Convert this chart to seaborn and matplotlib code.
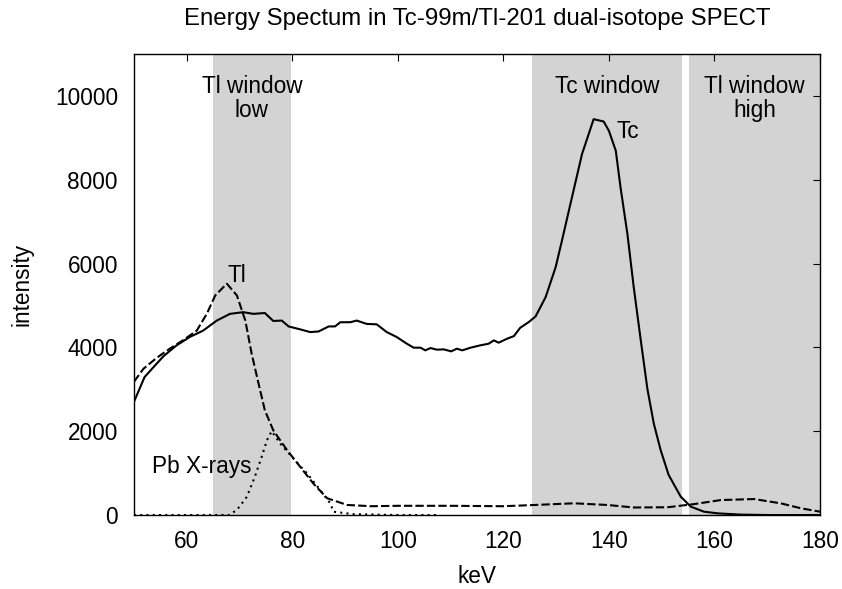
import matplotlib
matplotlib.use("Agg")
import matplotlib.pyplot as plt
import seaborn as sns
import pandas as pd

# ---------------- data ----------------
kev_tc = [50, 52, 54, 55.6, 58.1, 60.6, 63.1, 65.7, 68.2, 70.7, 72.6, 74.8, 76.4, 78.0, 79.3,
          81.5, 83.4, 85.0, 86.9, 88.1, 89.1, 91.0, 92.2, 94.1, 96.0, 97.9, 99.8, 101.7, 103.0,
          104.3, 105.2, 106.2, 107.4, 108.7, 110.1, 111.2, 112.2, 113.8, 115.6, 117.2, 118.2,
          119.1, 120.7, 122.0, 123.2, 124.8, 126.1, 128.0, 129.9, 131.1, 132.7, 134.9, 137.1,
          139.0, 140.0, 141.3, 142.2, 143.5, 144.7, 146.0, 147.3, 148.5, 149.8, 151.3, 153.6,
          155.5, 158.0, 160.6, 165, 170, 175, 180]
val_tc = [2700, 3290, 3570, 3790, 4050, 4250, 4400, 4640, 4800, 4840, 4800, 4820, 4630, 4640, 4500,
          4430, 4365, 4380, 4500, 4500, 4600, 4600, 4640, 4560, 4550, 4365, 4246, 4088, 3993,
          3993, 3929, 3984, 3945, 3953, 3905, 3969, 3929, 3993, 4048, 4088, 4167,
          4112, 4207, 4270, 4469, 4603, 4738, 5198, 5912, 6548, 7421, 8612, 9445,
          9390, 9167, 8691, 7817, 6707, 5436, 4200, 3000, 2183, 1550, 960, 440,
          200, 80, 40, 10, 0, 0, 0]

kev_tl = [50, 51.8, 54.3, 56.8, 59.3, 61.9, 63.8, 65.4, 67.6, 69.5, 71.1, 72.3, 73.6, 74.8, 76.4,
          79.0, 81.5, 84.0, 86.6, 90.4, 95, 100, 110, 120, 126, 133.4, 139.7, 144.7, 151.1,
          156.1, 161.2, 167.5, 172.6, 176.4, 180]
val_tl = [3180, 3490, 3750, 3970, 4170, 4400, 4800, 5240, 5520, 5240, 4640, 3850, 3140, 2500, 2020,
          1550, 1150, 750, 400, 240, 210, 220, 220, 210, 240, 280, 240, 180, 185,
          260, 357, 381, 278, 160, 80]

kev_pb = [50, 60, 68, 69.5, 71.4, 72.9, 74.2, 75.2, 76.1, 77.7, 80.2, 82.8, 85.3, 87.2, 87.8,
          91.6, 100, 108]
val_pb = [0, 0, 0, 120, 436, 912, 1388, 1786, 2000, 1707, 1350, 993, 595, 278, 79,
          20, 0, 0]

windows = [(65.0, 79.7), (125.5, 153.8), (155.2, 180.0)]
window_labels = ["Tl window\nlow", "Tc window", "Tl window\nhigh"]

x_ticks = [60, 80, 100, 120, 140, 160, 180]
y_ticks = [0, 2000, 4000, 6000, 8000, 10000]

# ---------------- style ----------------
sns.set_style("white")
plt.rcParams['font.family'] = ['Liberation Sans', 'DejaVu Sans']
plt.rcParams['text.color'] = 'black'
plt.rcParams['axes.labelcolor'] = 'black'
plt.rcParams['xtick.color'] = 'black'
plt.rcParams['ytick.color'] = 'black'
FS = 16.3

fig = plt.figure(figsize=(8.42, 5.89), dpi=100)
ax = fig.add_axes([0.1591, 0.1256, 0.9739 - 0.1591, 0.9083 - 0.1256])

for (a, b), lab in zip(windows, window_labels):
    ax.axvspan(a, b, color="#d3d3d3", lw=0, zorder=0)
    ax.text((a + b) / 2, 10500, lab, ha="center", va="top", fontsize=FS,
            linespacing=1.05, color="black", zorder=3)

df_tc = pd.DataFrame({"keV": kev_tc, "intensity": val_tc})
df_tl = pd.DataFrame({"keV": kev_tl, "intensity": val_tl})
df_pb = pd.DataFrame({"keV": kev_pb, "intensity": val_pb})

sns.lineplot(data=df_tc, x="keV", y="intensity", ax=ax, color="black", lw=1.5, zorder=4)
sns.lineplot(data=df_tl, x="keV", y="intensity", ax=ax, color="black", lw=1.5,
             linestyle=(0, (4, 1.5)), zorder=4)
sns.lineplot(data=df_pb, x="keV", y="intensity", ax=ax, color="black", lw=1.5,
             linestyle=(0, (1, 2)), zorder=4)

ax.text(69.5, 5720, "Tl", ha="center", va="center", fontsize=FS, color="black", zorder=5)
ax.text(143.6, 9155, "Tc", ha="center", va="center", fontsize=FS, color="black", zorder=5)
ax.text(62.8, 993, "Pb X-rays", ha="center", va="baseline", fontsize=FS, color="black", zorder=5)

ax.set_xlim(50, 180)
ax.set_ylim(0, 11000)
ax.set_xticks(x_ticks)
ax.set_yticks(y_ticks)
ax.tick_params(axis="both", direction="in", length=5, width=0.8, labelsize=FS,
               top=True, right=True, colors="black", labelcolor="black")
ax.tick_params(axis="x", pad=10.8)
ax.tick_params(axis="y", pad=11.5)
for s in ax.spines.values():
    s.set_visible(True)
    s.set_color("black")
    s.set_linewidth(1.0)
    s.set_zorder(6)

ax.set_xlabel("keV", fontsize=FS, color="black")
ax.set_ylabel("intensity", fontsize=FS, color="black")
ax.xaxis.set_label_coords(0.5, -0.108)
ax.yaxis.set_label_coords(-0.147, 0.5)
ax.set_title("Energy Spectum in Tc-99m/Tl-201 dual-isotope SPECT", fontsize=17.3,
             pad=20.9, color="black")

fig.savefig("out.png", dpi=100)
